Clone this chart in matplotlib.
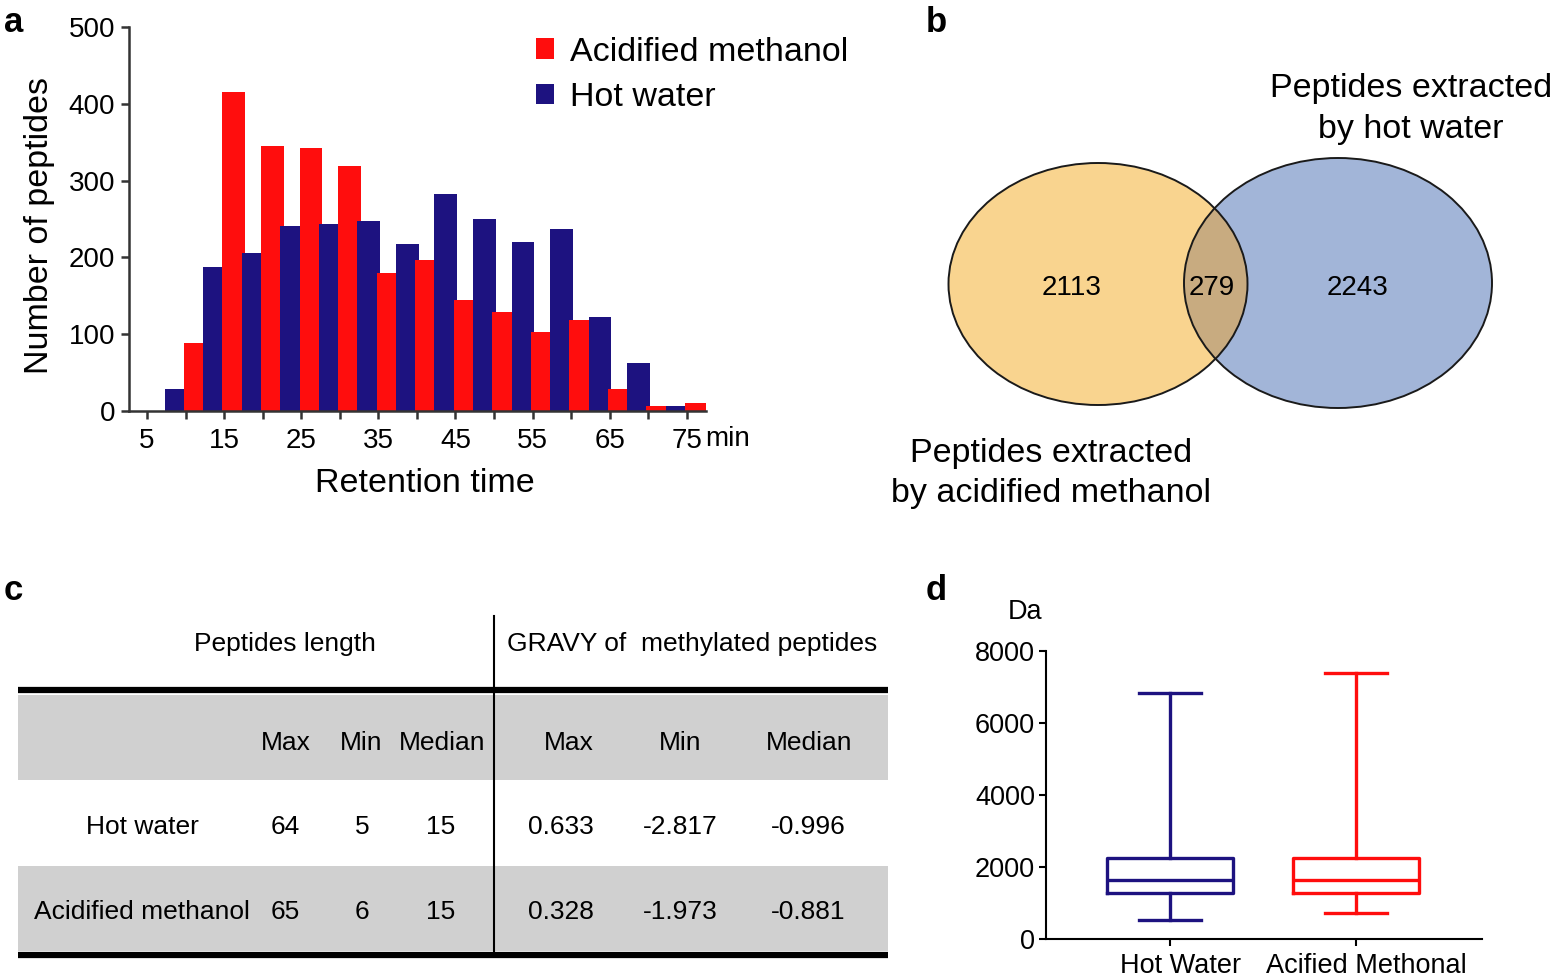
import numpy as np
import matplotlib
matplotlib.use('Agg')
import matplotlib.pyplot as plt
from matplotlib.patches import Ellipse, Rectangle
from matplotlib.transforms import ScaledTranslation

plt.rcParams['font.family'] = ['Liberation Sans', 'DejaVu Sans']

W, H = 1553, 976

# panel a: peptide counts per 5 min retention-time bin
bin_centers = [10, 15, 20, 25, 30, 35, 40, 45, 50, 55, 60, 65, 70, 75]
hot_water_counts = [28, 188, 206, 241, 243, 248, 218, 283, 250, 220, 237, 122, 63, 7]
acid_methanol_counts = [89, 415, 345, 342, 319, 180, 197, 144, 129, 103, 119, 28, 7, 11]

# panel b: venn counts (methanol only, both, hot water only)
venn_counts = [2113, 279, 2243]

# panel c: table
col_names = ['Max', 'Min', 'Median']
row_names = ['Hot water', 'Acidified methanol']
length_stats = [[64, 5, 15], [65, 6, 15]]
gravy_stats = [[0.633, -2.817, -0.996], [0.328, -1.973, -0.881]]

# panel d: peptide mass box plot (Da)
box_labels = ['Hot Water', 'Acified Methonal']
box_whislo = [540, 710]
box_q1 = [1270, 1270]
box_med = [1640, 1640]
box_q3 = [2255, 2240]
box_whishi = [6830, 7380]

RED = '#FF0D0D'
BLUE = '#1D1280'


def fx(x):
    return x / W


def fy(y):
    return 1 - y / H


fig = plt.figure(figsize=(W / 100, H / 100), dpi=100)
bg = fig.add_axes([0, 0, 1, 1])
bg.set_xlim(0, W)
bg.set_ylim(H, 0)
bg.axis('off')

# panel letters
for letter, (x, y) in zip('abcd', [(14, 22), (936, 22), (13, 590), (936, 590)]):
    bg.text(x, y, letter, fontsize=25, fontweight='bold', ha='center', va='center')

# ---- panel a ----
ax = fig.add_axes([fx(129), fy(411), (706 - 129) / W, (411 - 27) / H])
centers = np.array(bin_centers)
hw = ax.bar(centers - 1.25, hot_water_counts, width=2.95, color=BLUE, label='Hot water')
am = ax.bar(centers + 1.25, acid_methanol_counts, width=2.95, color=RED, label='Acidified methanol')
for i, (b, r) in enumerate(zip(hw, am)):
    b.set_zorder(2 + 2 * i)
    r.set_zorder(3 + 2 * i)
ax.set_xlim(2.66, 77.5)
ax.set_ylim(0, 500)
for s in ['top', 'right']:
    ax.spines[s].set_visible(False)
for s in ['left', 'bottom']:
    ax.spines[s].set_color('#333333')
    ax.spines[s].set_linewidth(1.8)
    ax.spines[s].set_zorder(100)
xt = list(range(5, 80, 5))
ax.set_xticks(xt)
ax.set_xticklabels([str(v) if v % 10 == 5 else '' for v in xt])
ax.set_yticks(range(0, 501, 100))
ax.tick_params(axis='both', length=6, width=1.8, color='#333333', labelsize=20)
ax.tick_params(axis='x', pad=6.5)
ax.tick_params(axis='y', pad=4)
bg.text(705, 439, 'min', fontsize=20, ha='left', va='center')
bg.text(40, 226, 'Number of peptides', rotation=90, fontsize=24.5, ha='center', va='center')
bg.text(425, 484, 'Retention time', fontsize=24.5, ha='center', va='center')
fig.legend(handles=[am, hw], labels=['Acidified methanol', 'Hot water'],
           loc='upper left', bbox_to_anchor=(fx(522), fy(23)), frameon=False,
           fontsize=24.5, handlelength=0.55, handleheight=0.55, handletextpad=0.45,
           labelspacing=0.42, borderaxespad=0)

# ---- panel b ----
left_e = Ellipse((1098, 284), 299, 242, fc='#F9D48F', ec='none')
right_e = Ellipse((1338, 283), 308, 250, fc='#A2B5D8', ec='none')
bg.add_patch(left_e)
bg.add_patch(right_e)
inter = Ellipse((1098, 284), 299, 242, fc='#C8AB80', ec='none')
bg.add_patch(inter)
inter.set_clip_path(right_e)
bg.add_patch(Ellipse((1098, 284), 299, 242, fill=False, ec='#1a1a1a', lw=1.4))
bg.add_patch(Ellipse((1338, 283), 308, 250, fill=False, ec='#1a1a1a', lw=1.4))
for x, n in zip([1072, 1212, 1358], venn_counts):
    bg.text(x, 288, str(n), fontsize=20, ha='center', va='center')
bg.text(1411, 109, 'Peptides extracted\nby hot water', fontsize=24.5,
        ha='center', va='center', linespacing=1.4)
bg.text(1051, 473.5, 'Peptides extracted\nby acidified methanol', fontsize=24.5,
        ha='center', va='center', linespacing=1.4)

# ---- panel c ----
tfs = 19
bg.add_patch(Rectangle((18, 695), 870, 85, fc='#D0D0D0', ec='none'))
bg.add_patch(Rectangle((18, 866), 870, 85, fc='#D0D0D0', ec='none'))
bg.plot([18, 888], [690, 690], color='k', lw=4.5, solid_capstyle='butt')
bg.plot([18, 888], [955, 955], color='k', lw=4.5, solid_capstyle='butt')
bg.plot([494, 494], [616, 953], color='k', lw=1.5)
bg.text(285, 644, 'Peptides length', fontsize=tfs, ha='center', va='center')
bg.text(692, 644, 'GRAVY of  methylated peptides', fontsize=tfs, ha='center', va='center')
head_x = [286, 361, 442, 569, 680, 809]
val_x = [285, 362, 441, 561, 680, 808]
for x, c in zip(head_x, col_names + col_names):
    bg.text(x, 743, c, fontsize=tfs, ha='center', va='center')
for row_y, name, ls, gs in zip([827, 912], row_names, length_stats, gravy_stats):
    bg.text(142, row_y, name, fontsize=tfs, ha='center', va='center')
    vals = [str(v) for v in ls] + ['%.3f' % v for v in gs]
    for x, v in zip(val_x, vals):
        bg.text(x, row_y, v, fontsize=tfs, ha='center', va='center')

# ---- panel d ----
axd = fig.add_axes([fx(1046), fy(939), (1482 - 1046) / W, (939 - 651) / H])
stats = []
for i in range(2):
    stats.append({'whislo': box_whislo[i], 'q1': box_q1[i], 'med': box_med[i],
                  'q3': box_q3[i], 'whishi': box_whishi[i], 'label': box_labels[i]})
bp = axd.bxp(stats, positions=[1, 2], widths=0.68, capwidths=0.33, showfliers=False,
             boxprops=dict(lw=2.4), whiskerprops=dict(lw=2.4), capprops=dict(lw=2.4),
             medianprops=dict(lw=2.4))
for i, col in enumerate([BLUE, RED]):
    bp['boxes'][i].set_color(col)
    bp['medians'][i].set_color(col)
    for k in (2 * i, 2 * i + 1):
        bp['whiskers'][k].set_color(col)
        bp['caps'][k].set_color(col)
axd.set_xlim(0.333, 2.677)
axd.set_ylim(0, 8000)
axd.set_yticks(range(0, 8001, 2000))
for s in ['top', 'right']:
    axd.spines[s].set_visible(False)
for s in ['left', 'bottom']:
    axd.spines[s].set_linewidth(1.5)
axd.tick_params(axis='both', length=5, width=1.5, labelsize=19.5, pad=3)
axd.tick_params(axis='x', pad=5)
shift = ScaledTranslation(10 / 100, 0, fig.dpi_scale_trans)
for lab in axd.get_xticklabels():
    lab.set_transform(lab.get_transform() + shift)
bg.text(1025, 612, 'Da', fontsize=19.5, ha='center', va='center')

fig.savefig('out.png', dpi=100)
